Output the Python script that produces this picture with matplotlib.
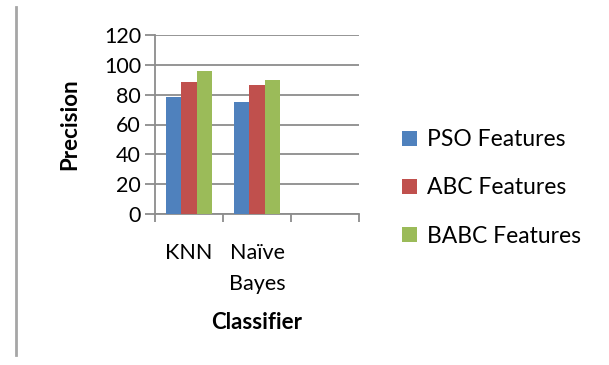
import matplotlib
matplotlib.use("Agg")
import matplotlib.pyplot as plt
import numpy as np
from matplotlib.lines import Line2D

plt.rcParams['font.family'] = ['Lato', 'DejaVu Sans']

classifiers = ['KNN', 'Naïve\nBayes', '']
series_names = ['PSO Features', 'ABC Features', 'BABC Features']
pso = [78.3, 75.0, 0]
abc = [88.8, 86.2, 0]
babc = [96.0, 89.7, 0]
colors = ['#4F81BD', '#C0504D', '#9BBB59']
grid_gray = '#8C8C8C'

fig = plt.figure(figsize=(6.09, 3.65), dpi=100)
ax = fig.add_axes([155 / 609, 1 - 214 / 365, 204 / 609, 179 / 365])

x = np.arange(len(classifiers))
bw = 0.225
bars = []
for k, vals in enumerate([pso, abc, babc]):
    b = ax.bar(x + (k - 1) * bw, vals, width=bw, color=colors[k],
               label=series_names[k], zorder=3)
    bars.append(b)

ax.set_xlim(-0.5, len(classifiers) - 0.5)
ax.set_ylim(0, 120)
ax.set_yticks(range(0, 121, 20))
ax.yaxis.grid(True, color=grid_gray, linewidth=1.3, zorder=0)

for side in ['top', 'right']:
    ax.spines[side].set_visible(False)
ax.spines['left'].set_color(grid_gray)
ax.spines['bottom'].set_color(grid_gray)
ax.spines['left'].set_linewidth(1.3)
ax.spines['bottom'].set_linewidth(1.3)

# category labels in the middle, tick marks on the boundaries
ax.set_xticks(x)
ax.set_xticklabels(classifiers, fontsize=15.5, linespacing=1.68, va='top')
ax.tick_params(axis='x', length=0, pad=21)
ax.set_xticks(np.arange(-0.5, len(classifiers)), minor=True)
ax.tick_params(axis='x', which='minor', length=6, color=grid_gray, width=1.3)
ax.tick_params(axis='y', length=7, color=grid_gray, width=1.3, labelsize=15.5, pad=3)

ax.set_ylabel('Precision', fontsize=16, fontweight='bold', labelpad=17)
ax.set_xlabel('Classifier', fontsize=16, fontweight='bold', labelpad=13)

fig.legend(handles=bars, labels=series_names, loc='center left',
           bbox_to_anchor=(381 / 609, 1 - 188 / 365), frameon=False,
           fontsize=16.5, handlelength=0.65, handleheight=0.65,
           handletextpad=0.45, labelspacing=1.18)

# thin frame edge on the left
fig.add_artist(Line2D([16 / 609, 16 / 609], [1 - 7 / 365, 1 - 355 / 365],
                      color='#A6A6A6', linewidth=2))

fig.savefig('out.png', dpi=100)
